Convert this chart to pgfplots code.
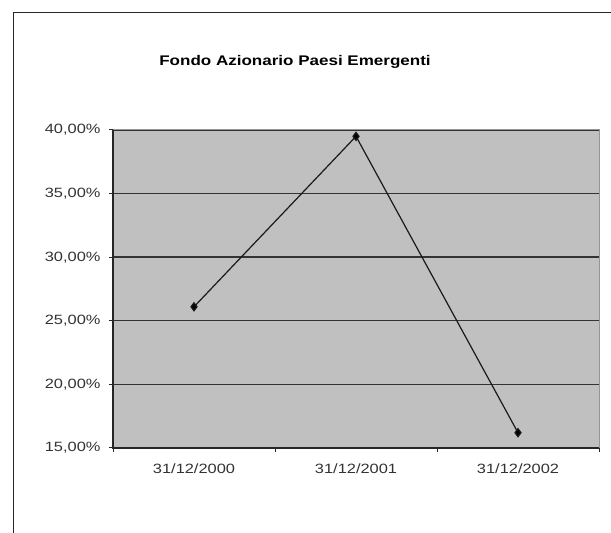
\documentclass[border=0pt]{standalone}
\usepackage{fontspec}
\usepackage{pgfplots}
\pgfplotsset{compat=1.18}
\setmainfont{Liberation Sans}
\newfontfamily\chartfont[FakeStretch=1.22]{Liberation Sans}
\definecolor{plotbg}{RGB}{192,192,192}
\definecolor{frameg}{RGB}{150,150,150}

\begin{document}
\begin{tikzpicture}[x=1bp,y=1bp]
\useasboundingbox (0,0) rectangle (611,533);
\fill[white] (0,0) rectangle (611,533);
% chart area border (only top and left visible)
\draw[line width=1.5bp, black!85] (13.5,-5) -- (13.5,520.5) -- (620,520.5);

\node[font=\chartfont\bfseries\fontsize{14}{16}\selectfont] at (295,471)
    {Fondo Azionario Paesi Emergenti};

\begin{axis}[
    at={(113bp,85bp)}, anchor=south west,
    scale only axis,
    width=486bp, height=318bp,
    xmin=-0.5, xmax=2.5,
    ymin=15, ymax=40,
    axis background/.style={fill=plotbg},
    axis line style={frameg, line width=1bp},
    xtick={0,1,2},
    xticklabels={31/12/2000, 31/12/2001, 31/12/2002},
    minor xtick={-0.5,0.5,1.5,2.5},
    major x tick style={draw=none},
    minor x tick style={black!85, line width=1bp},
    minor tick length=4bp,
    ytick={15,20,25,30,35,40},
    yticklabels={{15,00\%},{20,00\%},{25,00\%},{30,00\%},{35,00\%},{40,00\%}},
    y tick style={black!85, line width=1bp},
    major tick length=4bp,
    tick align=outside,
    xtick pos=bottom, ytick pos=left,
    tick label style={font=\chartfont\fontsize{13.5}{16}\selectfont, text=black!80},
    y tick label style={xshift=-5bp},
    x tick label style={yshift=-8bp},
    ymajorgrids,
    grid style={black!80, line width=1.4bp},
    clip=false,
]
\addplot[black!90, line width=1.2bp, mark=diamond*, mark size=4bp,
    mark options={fill=black}]
    coordinates {(0,26.1) (1,39.5) (2,16.2)};
\draw[black!85, line width=1.3bp] (rel axis cs:0,1) -- (rel axis cs:0,0) -- (rel axis cs:1,0);
\end{axis}
\end{tikzpicture}
\end{document}
